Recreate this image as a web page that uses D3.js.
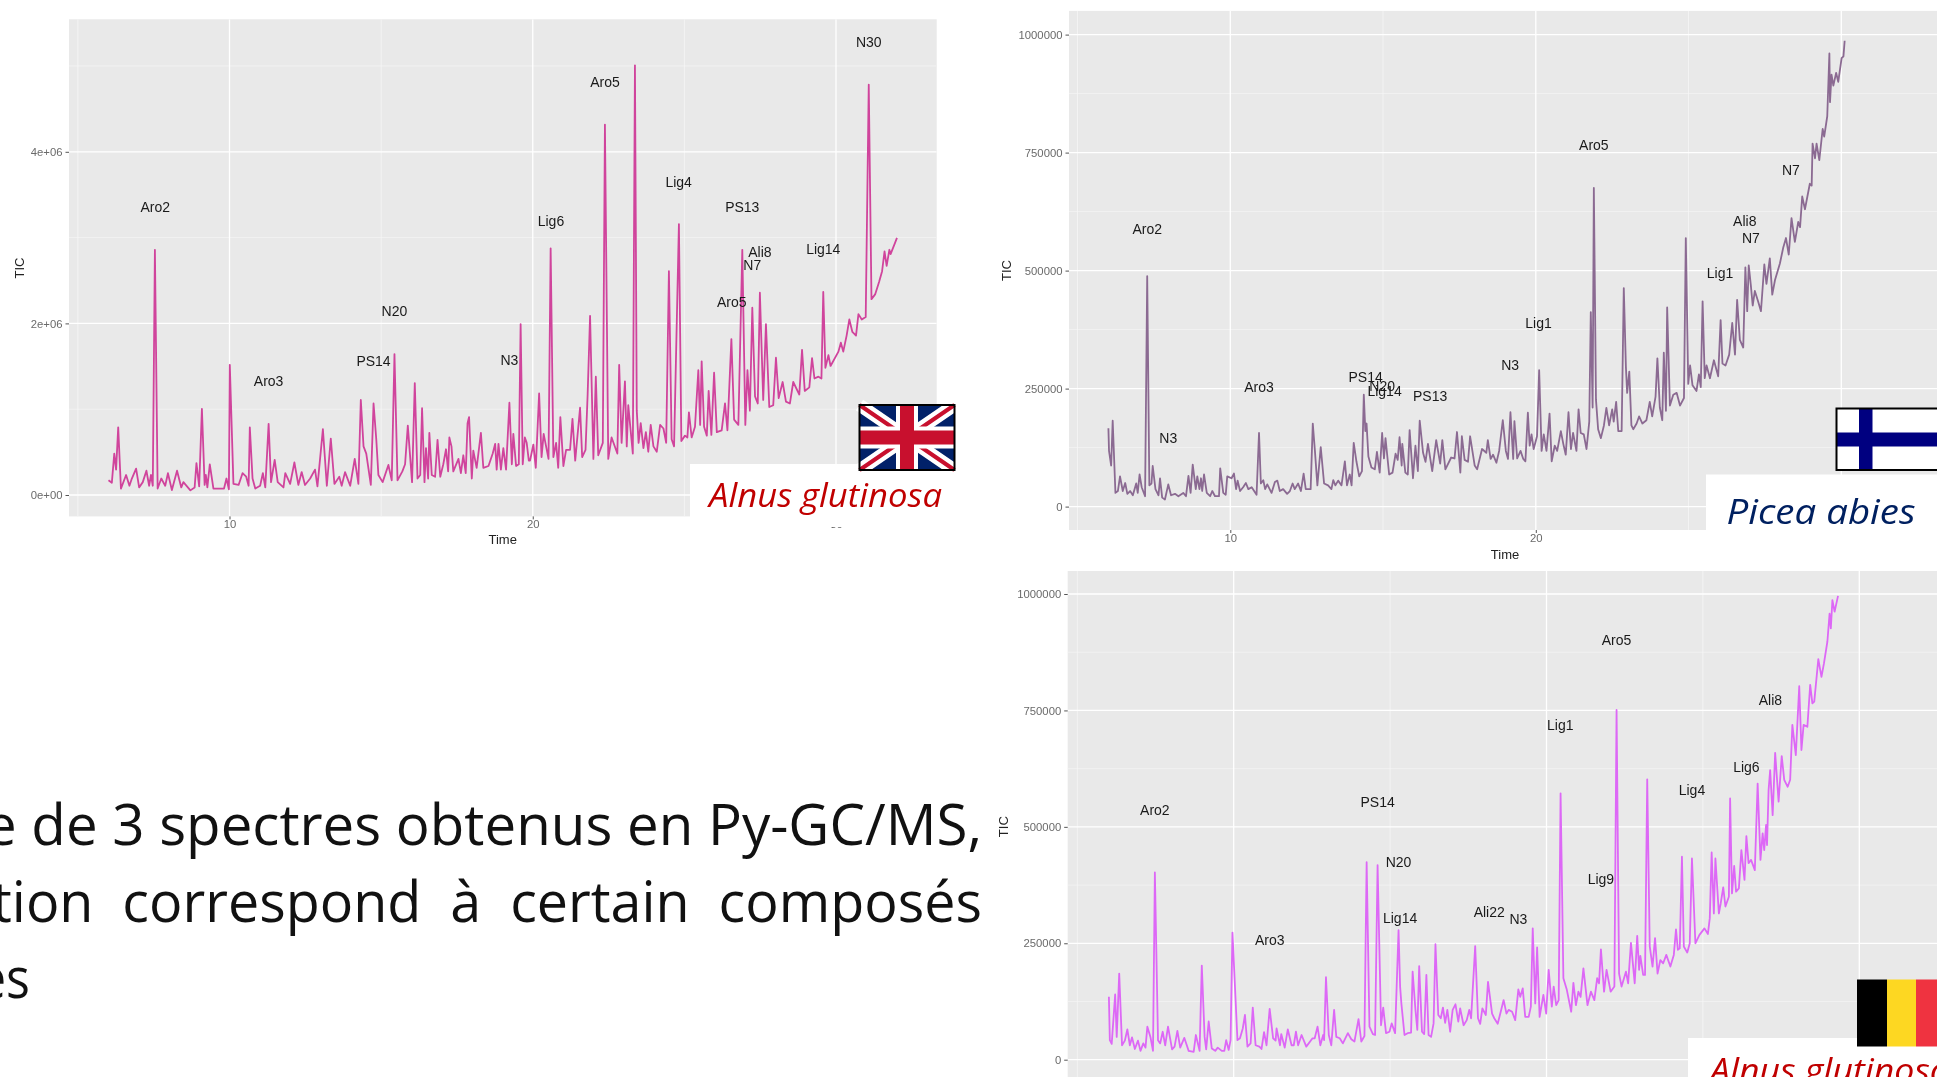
<!DOCTYPE html>
<html>
<head>
<meta charset="utf-8">
<script src="https://cdn.jsdelivr.net/npm/d3@7"></script>
<style>
  html, body { margin: 0; padding: 0; background: #fff; overflow: hidden; }
  svg { display: block; filter: blur(0.45px); }
</style>
</head>
<body>
<div id="chart"></div>
<script>
// TIC values are in thousands

// UK Alnus glutinosa
const timeA = [6.01,6.12,6.20,6.26,6.33,6.42,6.59,6.70,6.78,6.92,7.02,7.14,7.26,7.35,7.41,7.47,7.54,7.63,7.75,7.88,7.97,8.10,8.27,8.41,8.48,8.71,8.85,8.91,9.00,9.09,9.18,9.22,9.27,9.35,9.47,9.82,9.90,9.98,10.01,10.13,10.30,10.43,10.55,10.63,10.67,10.76,10.85,11.01,11.10,11.18,11.29,11.37,11.49,11.59,11.78,11.84,12.00,12.14,12.27,12.38,12.49,12.66,12.82,12.90,13.08,13.21,13.34,13.46,13.62,13.70,13.81,13.98,14.13,14.25,14.33,14.42,14.51,14.66,14.75,14.84,14.91,15.05,15.24,15.35,15.44,15.54,15.70,15.79,15.88,16.02,16.11,16.20,16.29,16.35,16.43,16.48,16.55,16.59,16.67,16.78,16.86,16.95,17.05,17.14,17.21,17.25,17.32,17.38,17.55,17.63,17.71,17.79,17.85,17.90,17.99,18.04,18.15,18.29,18.37,18.54,18.68,18.76,18.81,18.87,18.95,19.03,19.12,19.23,19.31,19.36,19.45,19.54,19.60,19.67,19.74,19.80,19.87,19.91,20.02,20.10,20.21,20.29,20.36,20.52,20.59,20.68,20.77,20.84,20.91,21.01,21.10,21.23,21.31,21.40,21.56,21.63,21.74,21.81,21.89,22.00,22.08,22.16,22.31,22.38,22.49,22.60,22.79,22.85,22.93,23.04,23.10,23.15,23.30,23.37,23.43,23.49,23.56,23.65,23.73,23.81,23.89,23.98,24.09,24.20,24.31,24.40,24.49,24.58,24.66,24.82,24.90,25.02,25.10,25.15,25.24,25.35,25.46,25.52,25.57,25.65,25.74,25.80,25.89,25.98,26.07,26.23,26.34,26.42,26.55,26.64,26.78,26.91,27.01,27.08,27.16,27.24,27.33,27.42,27.49,27.60,27.69,27.80,27.93,28.02,28.11,28.24,28.35,28.48,28.59,28.79,28.88,28.97,29.12,29.21,29.29,29.42,29.52,29.58,29.65,29.75,29.82,30.08,30.16,30.24,30.35,30.44,30.54,30.66,30.74,30.85,30.98,31.08,31.17,31.29,31.42,31.52,31.60,31.67,31.76,31.80,31.95,32.01];
const ticA = [171,142,483,296,788,75,233,108,192,308,88,150,283,108,233,108,2858,75,192,108,254,58,283,88,150,54,88,371,100,1004,117,233,88,358,75,75,192,67,1517,129,117,254,213,108,788,192,75,108,254,88,829,150,408,150,88,254,129,379,117,267,117,192,296,100,767,108,658,129,213,108,267,108,421,129,1108,567,483,117,1067,650,233,150,350,171,1642,171,275,358,808,150,1304,192,233,1012,150,546,192,725,233,213,642,213,358,533,275,671,567,275,421,254,463,254,838,908,192,517,317,725,317,338,483,596,296,596,296,546,296,1075,358,713,338,358,1992,358,671,608,400,400,588,317,1183,442,713,421,2875,442,608,317,908,338,525,525,888,400,1017,442,525,1171,2088,421,1379,463,608,4317,421,671,483,1517,608,1325,567,1046,483,5008,983,608,838,546,733,504,817,567,504,817,775,608,2608,650,567,3158,629,692,671,963,671,796,1454,817,1558,796,692,1213,700,1425,733,754,1067,754,1817,879,817,2858,817,1454,983,2183,1150,1067,2358,1108,1992,1025,1046,1600,1129,1317,1088,1067,1317,1171,1692,1213,1254,1596,1358,1379,1358,2367,1483,1629,1504,1671,1775,1671,1858,2046,1900,1858,2108,2046,2075,4783,2283,2338,2483,2608,2838,2671,2858,2808,2942,2996];
const peakNamesA = ["Aro2","Aro3","PS14","N20","N3","Lig6","Aro5","Lig4","PS13","Ali8","N7","Aro5","Lig14","N30"];
const peakTimesA = [7.55,11.29,14.75,15.44,19.23,20.60,22.38,24.81,26.91,27.49,27.24,26.56,29.58,31.08];
const peakTicsA = [3350,1325,1558,2138,1575,3188,4808,3642,3350,2829,2679,2254,2863,5275];

// Finland Picea abies
const timeB = [6.01,6.03,6.10,6.15,6.24,6.32,6.39,6.48,6.56,6.63,6.72,6.81,6.92,6.97,7.03,7.10,7.21,7.28,7.35,7.42,7.46,7.55,7.65,7.70,7.77,7.86,7.97,8.06,8.19,8.30,8.46,8.55,8.63,8.70,8.77,8.87,8.92,8.99,9.04,9.08,9.14,9.23,9.34,9.41,9.50,9.63,9.67,9.77,9.85,9.90,10.04,10.12,10.19,10.24,10.32,10.42,10.51,10.59,10.70,10.86,10.94,11.00,11.08,11.14,11.21,11.35,11.46,11.54,11.62,11.73,11.86,11.95,12.04,12.11,12.22,12.31,12.40,12.47,12.63,12.70,12.77,12.85,12.96,13.07,13.20,13.31,13.37,13.44,13.53,13.64,13.75,13.82,13.91,13.97,14.04,14.13,14.22,14.31,14.37,14.42,14.46,14.52,14.62,14.73,14.80,14.89,14.97,15.03,15.08,15.20,15.31,15.41,15.48,15.54,15.61,15.63,15.73,15.81,15.87,15.98,16.06,16.14,16.20,16.31,16.39,16.47,16.61,16.74,16.87,16.94,17.04,17.23,17.34,17.42,17.53,17.58,17.67,17.78,17.85,18.00,18.08,18.24,18.38,18.43,18.52,18.60,18.71,18.80,18.92,19.02,19.09,19.17,19.26,19.30,19.39,19.50,19.59,19.66,19.74,19.80,19.86,19.93,20.04,20.11,20.19,20.26,20.35,20.45,20.52,20.62,20.70,20.82,20.90,20.98,21.07,21.15,21.22,21.33,21.40,21.47,21.57,21.66,21.75,21.80,21.86,21.90,21.97,22.04,22.13,22.23,22.31,22.40,22.50,22.55,22.63,22.70,22.81,22.88,22.95,22.99,23.06,23.13,23.19,23.30,23.38,23.49,23.62,23.73,23.81,23.92,23.98,24.06,24.14,24.19,24.26,24.30,24.39,24.50,24.61,24.72,24.85,24.91,24.99,25.05,25.13,25.26,25.34,25.40,25.46,25.53,25.59,25.70,25.83,25.97,26.05,26.11,26.21,26.33,26.43,26.52,26.59,26.68,26.79,26.86,26.92,26.97,27.04,27.10,27.17,27.28,27.37,27.48,27.55,27.66,27.74,27.83,27.99,28.10,28.19,28.28,28.37,28.48,28.59,28.65,28.72,28.81,28.97,29.03,29.06,29.14,29.19,29.28,29.39,29.44,29.54,29.61,29.63,29.68,29.74,29.83,29.90,30.01,30.07,30.11];
const ticB = [166,118,87,182,29,33,64,33,50,27,33,24,49,29,68,41,22,488,45,49,86,37,24,60,19,15,47,24,27,22,29,22,65,29,89,37,64,37,60,33,68,29,22,33,22,22,81,29,25,64,60,70,37,55,33,41,50,37,41,25,156,49,56,37,47,29,52,55,33,37,27,33,49,37,49,33,70,37,37,176,118,45,126,49,45,37,56,45,55,45,96,45,68,45,135,95,64,75,237,160,176,106,83,79,116,72,156,102,145,68,72,112,99,147,87,133,72,68,162,60,129,75,182,114,95,133,75,141,91,141,79,104,102,158,72,149,99,95,149,87,79,122,114,141,101,110,93,118,183,118,101,200,101,181,102,118,101,96,199,129,153,122,149,289,118,153,118,197,96,129,118,160,133,110,200,122,156,118,206,156,153,122,180,412,210,675,226,164,145,172,209,172,206,180,222,160,160,463,295,241,286,172,164,176,191,176,183,222,191,233,314,210,183,326,203,422,214,237,241,214,230,569,260,299,257,245,280,253,435,272,299,272,310,276,395,303,299,322,389,322,438,353,337,507,414,511,468,426,457,434,414,513,472,526,449,480,515,549,569,534,611,561,603,592,657,630,684,680,769,738,769,734,800,784,827,960,857,915,892,919,900,950,954,987];
const peakNamesB = ["Aro2","N3","Aro3","PS14","N20","Lig14","PS13","N3","Lig1","Aro5","Ali8","N7","Lig1","N7"];
const peakTimesB = [7.28,7.97,10.94,14.43,14.97,15.05,16.54,19.16,20.09,21.90,26.84,27.04,26.03,28.35];
const peakTicsB = [587,145,254,274,255,245,235,299,388,766,605,568,494,712];

// Belgium Alnus glutinosa
const timeC = [6.01,6.04,6.10,6.21,6.26,6.34,6.43,6.52,6.60,6.68,6.75,6.84,6.94,7.02,7.11,7.18,7.24,7.34,7.42,7.48,7.58,7.65,7.73,7.81,7.90,8.03,8.11,8.20,8.29,8.42,8.56,8.72,8.79,8.91,8.98,9.07,9.12,9.20,9.30,9.41,9.49,9.62,9.70,9.76,9.84,9.90,9.96,10.12,10.20,10.29,10.36,10.44,10.54,10.61,10.70,10.82,10.89,10.97,11.05,11.15,11.26,11.34,11.37,11.48,11.52,11.63,11.73,11.85,11.92,11.99,12.06,12.17,12.32,12.52,12.59,12.68,12.77,12.86,12.89,12.95,13.04,13.12,13.21,13.28,13.39,13.49,13.65,13.76,13.86,13.99,14.08,14.18,14.25,14.34,14.45,14.52,14.60,14.71,14.78,14.87,14.98,15.05,15.16,15.27,15.32,15.36,15.46,15.56,15.67,15.72,15.81,15.87,15.93,16.02,16.09,16.16,16.23,16.31,16.39,16.45,16.54,16.62,16.69,16.76,16.83,16.92,17.00,17.09,17.18,17.24,17.35,17.45,17.53,17.59,17.72,17.81,17.88,17.95,18.06,18.13,18.26,18.33,18.44,18.63,18.72,18.79,18.90,19.00,19.10,19.16,19.24,19.32,19.43,19.50,19.56,19.64,19.70,19.78,19.90,19.99,20.07,20.17,20.23,20.31,20.39,20.45,20.54,20.65,20.79,20.86,20.94,21.02,21.09,21.18,21.31,21.42,21.53,21.62,21.68,21.74,21.84,21.92,22.05,22.17,22.24,22.32,22.40,22.54,22.61,22.70,22.82,22.90,22.96,23.00,23.09,23.15,23.22,23.30,23.39,23.47,23.55,23.64,23.73,23.83,23.96,24.07,24.14,24.20,24.26,24.33,24.39,24.50,24.58,24.65,24.76,24.89,25.05,25.16,25.22,25.28,25.35,25.40,25.51,25.57,25.65,25.72,25.83,25.87,25.93,26.00,26.06,26.15,26.23,26.33,26.39,26.46,26.54,26.66,26.75,26.84,26.91,26.96,27.02,27.05,27.10,27.15,27.23,27.31,27.42,27.52,27.60,27.71,27.79,27.86,27.97,28.08,28.15,28.22,28.34,28.43,28.50,28.56,28.69,28.79,28.87,28.98,29.05,29.09,29.14,29.21,29.32];
const ticC = [135,42,34,140,49,185,31,41,65,31,48,23,41,19,35,26,71,48,19,402,42,35,60,31,71,22,28,62,26,47,19,17,53,19,202,49,22,82,24,19,26,19,19,42,21,42,273,42,46,67,96,28,35,112,31,28,23,59,31,109,46,41,67,31,55,26,65,31,31,60,31,53,28,46,46,71,31,53,42,177,53,31,107,49,46,35,57,44,39,87,39,51,424,71,55,53,418,74,112,57,60,78,57,278,157,121,53,57,58,189,107,64,201,60,55,182,53,49,78,248,96,89,112,79,107,60,107,119,82,110,74,85,107,89,244,89,77,110,96,167,99,89,77,128,99,107,103,85,151,135,153,92,92,114,282,121,241,92,139,99,193,114,157,117,128,572,175,150,103,165,117,146,135,196,117,146,128,175,164,237,146,193,146,157,751,185,157,189,164,251,164,266,193,223,182,182,602,244,200,261,185,214,207,225,200,225,280,236,239,436,243,230,250,432,250,268,282,270,304,445,314,432,314,336,370,329,350,561,357,416,361,368,450,386,480,422,429,407,593,429,486,450,504,461,579,622,525,659,554,652,601,586,601,719,654,802,665,719,715,805,765,769,860,822,851,898,958,926,987,962,996];
const peakNamesC = ["Aro2","Aro3","PS14","N20","Lig14","Ali22","N3","Lig1","Aro5","Lig9","Lig4","Lig6","Ali8"];
const peakTimesC = [7.48,11.15,14.60,15.27,15.32,18.17,19.10,20.44,22.24,21.74,24.65,26.39,27.16];
const peakTicsC = [536,256,554,424,303,318,301,719,900,387,578,629,772];

const timeMajor = [10, 20, 30];
const timeMinor = [5, 15, 25];
const ticksA = [0, 2000, 4000];
const ticksAMinor = [1000, 3000, 5000];
const ticksAText = ["0e+00", "2e+06", "4e+06"];
const ticksB = [0, 250, 500, 750, 1000];
const ticksBMinor = [125, 375, 625, 875];
const ticksBText = ["0", "250000", "500000", "750000", "1000000"];

const paragraph = ["e de 3 spectres obtenus en Py-GC/MS,", "tion  correspond  à  certain  composés", "es"];

const svg = d3.select("#chart").append("svg")
  .attr("width", 1937)
  .attr("height", 1077);

svg.append("rect").attr("width", 1937).attr("height", 1077).attr("fill", "#fff");

function drawPanel(p) {
  const x = d3.scaleLinear().domain([10, 30]).range(p.xRange);
  const y = d3.scaleLinear().domain([0, p.yTop]).range(p.yRange);

  svg.append("rect")
    .attr("x", p.left).attr("y", p.top)
    .attr("width", p.right - p.left).attr("height", p.bottom - p.top)
    .attr("fill", "#e9e9e9");

  const clipId = "clip" + p.id;
  svg.append("clipPath").attr("id", clipId).append("rect")
    .attr("x", p.left).attr("y", p.top)
    .attr("width", p.right - p.left).attr("height", p.bottom - p.top);

  const g = svg.append("g").attr("clip-path", `url(#${clipId})`);

  // grid, thin lines first
  g.selectAll(".hmin").data(p.yMinor).join("line")
    .attr("x1", p.left).attr("x2", p.right)
    .attr("y1", d => y(d)).attr("y2", d => y(d))
    .attr("stroke", "#f4f4f4").attr("stroke-width", 0.8);
  g.selectAll(".vmin").data(timeMinor).join("line")
    .attr("y1", p.top).attr("y2", p.bottom)
    .attr("x1", d => x(d)).attr("x2", d => x(d))
    .attr("stroke", "#f6f6f6").attr("stroke-width", 0.8);
  g.selectAll(".hmaj").data(p.yTicks).join("line")
    .attr("x1", p.left).attr("x2", p.right)
    .attr("y1", d => y(d)).attr("y2", d => y(d))
    .attr("stroke", "#fff").attr("stroke-width", 1.3);
  g.selectAll(".vmaj").data(timeMajor).join("line")
    .attr("y1", p.top).attr("y2", p.bottom)
    .attr("x1", d => x(d)).attr("x2", d => x(d))
    .attr("stroke", "#fff").attr("stroke-width", 1.3);

  const line = d3.line().x(d => x(d[0])).y(d => y(d[1]));
  g.append("path")
    .datum(d3.zip(p.time, p.tic))
    .attr("d", line)
    .attr("fill", "none")
    .attr("stroke", p.color)
    .attr("stroke-width", 1.8)
    .attr("stroke-linejoin", "round");

  g.selectAll(".peak").data(p.names).join("text")
    .attr("x", (d, i) => x(p.peakTimes[i]))
    .attr("y", (d, i) => y(p.peakTics[i]))
    .attr("dy", "0.35em")
    .attr("text-anchor", "middle")
    .attr("font-family", "Liberation Sans")
    .attr("font-size", 14)
    .attr("fill", "#1a1a1a")
    .text(d => d);

  // axes
  const yAxis = svg.append("g")
    .attr("transform", `translate(${p.left},0)`)
    .call(d3.axisLeft(y).tickValues(p.yTicks).tickSize(3.5).tickPadding(3)
      .tickFormat((d, i) => p.yText[i]));
  yAxis.select(".domain").remove();
  yAxis.selectAll("line").attr("stroke", "#555");
  yAxis.selectAll("text").attr("font-family", "Liberation Sans").attr("font-size", 11.3).attr("fill", "#6a6a6a");

  if (p.xAxis) {
    const xAxis = svg.append("g")
      .attr("transform", `translate(0,${p.bottom})`)
      .call(d3.axisBottom(x).tickValues(timeMajor).tickSize(3).tickPadding(1)
        .tickFormat(d3.format("d")));
    xAxis.select(".domain").remove();
    xAxis.selectAll("line").attr("stroke", "#555");
    xAxis.selectAll("text").attr("font-family", "Liberation Sans").attr("font-size", 11.3).attr("fill", "#6a6a6a");

    svg.append("text")
      .attr("x", p.timeLabel[0]).attr("y", p.timeLabel[1])
      .attr("dy", "0.35em")
      .attr("text-anchor", "middle")
      .attr("font-family", "Liberation Sans").attr("font-size", 13).attr("fill", "#222")
      .text("Time");
  }

  svg.append("text")
    .attr("transform", `translate(${p.ticLabel[0]},${p.ticLabel[1]}) rotate(-90)`)
    .attr("dy", "0.35em")
    .attr("text-anchor", "middle")
    .attr("font-family", "Liberation Sans").attr("font-size", 13).attr("fill", "#222")
    .text("TIC");
}

drawPanel({
  id: "A", left: 69, right: 936.7, top: 19.3, bottom: 516.4,
  xRange: [229.5, 836], yTop: 4000, yRange: [495, 151.8],
  yTicks: ticksA, yMinor: ticksAMinor, yText: ticksAText,
  time: timeA, tic: ticA, names: peakNamesA, peakTimes: peakTimesA, peakTics: peakTicsA,
  color: "#d0449c", xAxis: true, timeLabel: [502.7, 539], ticLabel: [19.5, 268]
});
drawPanel({
  id: "B", left: 1069, right: 1937, top: 10.9, bottom: 530,
  xRange: [1230.3, 1841.3], yTop: 1000, yRange: [506.6, 34.6],
  yTicks: ticksB, yMinor: ticksBMinor, yText: ticksBText,
  time: timeB, tic: ticB, names: peakNamesB, peakTimes: peakTimesB, peakTics: peakTicsB,
  color: "#8b6a92", xAxis: true, timeLabel: [1505, 554], ticLabel: [1006, 270.5]
});
drawPanel({
  id: "C", left: 1067.7, right: 1937, top: 571, bottom: 1077,
  xRange: [1233.7, 1859.3], yTop: 1000, yRange: [1059.7, 594],
  yTicks: ticksB, yMinor: ticksBMinor, yText: ticksBText,
  time: timeC, tic: ticC, names: peakNamesC, peakTimes: peakTimesC, peakTics: peakTicsC,
  color: "#dd68f6", xAxis: false, ticLabel: [1003, 826.7]
});

// white boxes pasted over the plots, then the flags
function whiteBox(x0, y0, x1, y1) {
  svg.append("rect").attr("x", x0).attr("y", y0).attr("width", x1 - x0).attr("height", y1 - y0).attr("fill", "#fff");
}
whiteBox(690, 464, 960, 527);
whiteBox(1706, 474.5, 1937, 546);
whiteBox(1688, 1038, 1937, 1077);

// UK flag
const uk = svg.append("g").attr("transform", "translate(859.5,405)");
uk.append("rect").attr("width", 95).attr("height", 65).attr("fill", "#012169");
uk.append("path").attr("d", "M0,0L95,65M95,0L0,65").attr("stroke", "#fff").attr("stroke-width", 13);
uk.append("path").attr("d", "M0,0L95,65M95,0L0,65").attr("stroke", "#c8102e").attr("stroke-width", 4);
uk.append("path").attr("d", "M47.5,0V65M0,32.5H95").attr("stroke", "#fff").attr("stroke-width", 22);
uk.append("path").attr("d", "M47.5,0V65M0,32.5H95").attr("stroke", "#c8102e").attr("stroke-width", 14);
uk.append("rect").attr("width", 95).attr("height", 65).attr("fill", "none").attr("stroke", "#000").attr("stroke-width", 2);

// Finnish flag
const fi = svg.append("g").attr("transform", "translate(1836.5,408.5)");
fi.append("rect").attr("width", 110).attr("height", 61.5).attr("fill", "#fff");
fi.append("rect").attr("x", 22.5).attr("width", 13.5).attr("height", 61.5).attr("fill", "#000080");
fi.append("rect").attr("y", 24).attr("width", 110).attr("height", 14).attr("fill", "#000080");
fi.append("rect").attr("width", 110).attr("height", 61.5).attr("fill", "none").attr("stroke", "#000").attr("stroke-width", 2);

// Belgian flag
const be = svg.append("g").attr("transform", "translate(1857,979.5)");
be.append("rect").attr("width", 30).attr("height", 67).attr("fill", "#000");
be.append("rect").attr("x", 30).attr("width", 29).attr("height", 67).attr("fill", "#fdd722");
be.append("rect").attr("x", 59).attr("width", 30).attr("height", 67).attr("fill", "#ef3340");

const species = [
  { text: "Alnus glutinosa", x: 709, y: 507, len: 233, size: 32, color: "#c00000" },
  { text: "Picea abies", x: 1726.5, y: 523.5, len: 189, size: 35, color: "#002060" },
  { text: "Alnus glutinosa", x: 1710, y: 1082, len: 240, size: 33, color: "#c00000" }
];
svg.selectAll(".species").data(species).join("text")
  .attr("x", d => d.x).attr("y", d => d.y)
  .attr("font-family", "Open Sans").attr("font-style", "italic")
  .attr("font-size", d => d.size)
  .attr("textLength", d => d.len).attr("lengthAdjust", "spacingAndGlyphs")
  .attr("fill", d => d.color)
  .text(d => d.text);

// slide text under the left plot
const paraBase = [844.5, 921.5, 998];
const paraX = [-15, -8, -22];
const paraLen = [997, 990, 52];
svg.selectAll(".para").data(paragraph).join("text")
  .attr("x", (d, i) => paraX[i]).attr("y", (d, i) => paraBase[i])
  .attr("font-family", "Open Sans").attr("font-size", 56)
  .attr("textLength", (d, i) => paraLen[i]).attr("lengthAdjust", "spacingAndGlyphs")
  .style("white-space", "pre")
  .attr("fill", "#111")
  .text(d => d);
</script>
</body>
</html>
